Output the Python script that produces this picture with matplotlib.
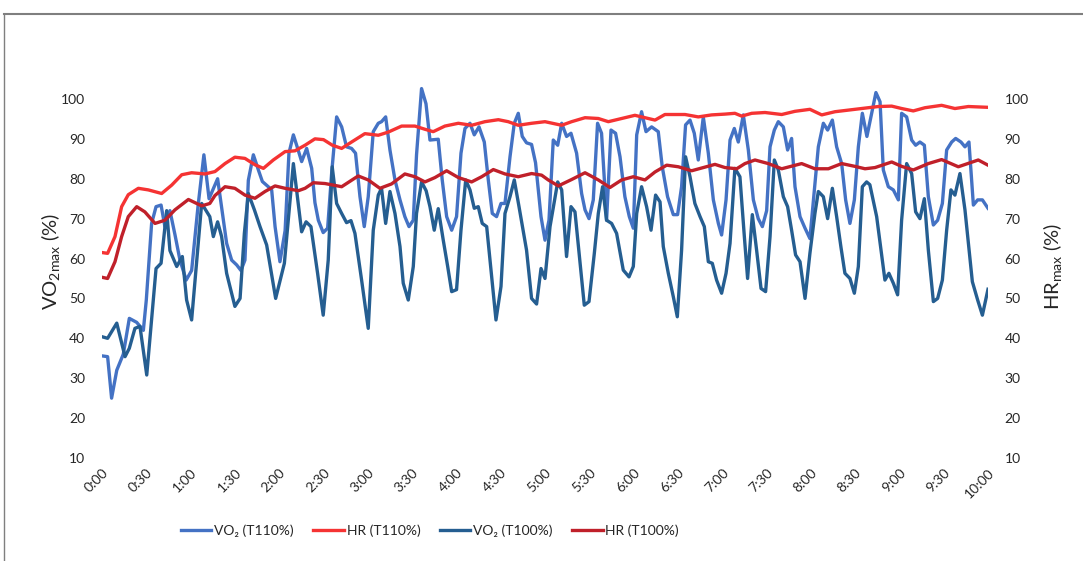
import matplotlib
matplotlib.use("Agg")
import matplotlib.pyplot as plt
from matplotlib.lines import Line2D

# ── data (time in seconds, values in % of max) ────────────────────────────────
vo2_t110_t = [0, 3.8, 6.5, 10, 14.4, 18.5, 23.5, 28, 30, 33.6, 36.6, 40, 42.6, 46, 49.4,
              52.8, 57, 60.7, 65, 69, 72.5, 78.3, 82.2, 84.4, 87.8, 91.2, 94.1, 96.8,
              99.1, 102.5, 105.9, 108.6, 112.6, 114.9, 117.2, 120.5, 124, 126.6, 129.6,
              132.5, 135.2, 138.6, 142, 144.2, 146.5, 149.8, 152.8, 155.5, 158.9, 162.3,
              165.6, 169, 171.7, 174.7, 177.6, 180.3, 183.7, 187.1, 189.3, 192.1, 195,
              198.4, 201.8, 205.1, 207.9, 210.8, 213, 216.4, 219.4, 222.1, 227.7, 230.4,
              233.4, 236.8, 240.1, 243.1, 245.8, 249.2, 252.1, 255.3, 258.9, 261.6, 264.3,
              267.2, 270.2, 272.9, 276.3, 279.2, 281.9, 284.6, 287.5, 290.9, 293.6, 295.5,
              297.3, 300, 302.7, 305.6, 308.6, 311.3, 314.6, 317.6, 321.4, 324.8, 327.1,
              329.8, 332.7, 335.6, 338.3, 340.2, 341.7, 344.7, 347.8, 350.8, 354.1, 357.1,
              359.8, 362.1, 365.4, 368.4, 372.2, 376.7, 379.4, 383, 386.9, 389.8, 392.5,
              395.2, 398.2, 401.1, 403.8, 407.2, 410.6, 414, 417.4, 419.6, 422.6, 425.3,
              428.2, 430.9, 434.3, 437.7, 441.1, 444.4, 447.2, 450.1, 452.4, 455.3, 458,
              461.4, 464.3, 467, 469.3, 472.7, 476.1, 479.4, 482.4, 485.1, 488.5, 491.4,
              494.6, 497.5, 500.9, 503.6, 506.5, 509.5, 512.2, 514.9, 518, 524.1, 526.9,
              529.1, 532.5, 535.9, 539.3, 541.5, 544.9, 548.3, 551, 553.9, 556.9, 559.6,
              563, 565.9, 569.1, 572, 575.4, 578.1, 581.7, 584.4, 587.1, 590.1, 593,
              596.2, 600]
vo2_t110 = [35.6, 35.4, 25, 32, 36, 45, 44, 42, 49.6, 68.8, 73, 73.4, 68, 72, 66,
            59.6, 54.6, 57, 73, 86, 75, 80, 69.6, 63.8, 59.6, 58.4, 57, 59.6,
            79.6, 86, 82.2, 79.3, 78, 77.2, 68, 59.2, 67, 86.4, 91,
            87.6, 84.3, 87.6, 82.6, 74, 69.6, 66.5, 67.6, 81.3, 95.5, 93,
            88, 87.6, 86.4, 75.5, 68, 75.5, 91.8, 93.9, 94.3, 95.5, 87.2,
            79.7, 74.7, 70.5, 68, 69.6, 86, 102.6, 98.8, 89.7, 89.9, 79.7,
            70.5, 67.1, 70.5, 86.4, 92.6, 93.9, 91, 93, 89.2, 79.7, 71.3,
            70.5, 73.8, 73.8, 85.5, 93.9, 96.4, 90.6, 89, 88.6, 84, 77.2,
            70.5, 64.6, 69.6, 89.7, 88.4, 93.9, 90.6, 91.4, 86.4, 76.3, 72.2,
            70, 74.7, 93.9, 91.4, 79.7, 69.6, 92.2, 91.4, 85.5, 75.5, 70.5,
            67.6, 91, 96.8, 91.8, 93, 91.8, 83, 75.5, 71, 71, 78,
            93.5, 94.7, 91.4, 84.7, 95.5, 86.4, 74.7, 68.8, 65.9, 74.7, 89.7,
            92.6, 89.2, 96, 87.2, 74.7, 70, 68, 72, 88, 92.2, 94.3,
            93, 87.2, 90.1, 78, 70.5, 67.6, 65, 77.2, 88, 93.9, 92.2,
            94.7, 88, 83.8, 74.7, 68.8, 74.7, 88, 96.4, 90.6, 101.6, 99.3,
            82.2, 78, 77.2, 74.7, 96.4, 95.5, 89.7, 88.4, 89.2, 88.4, 75.5,
            68.4, 69.6, 73.8, 87.2, 89.2, 90.1, 89.2, 88, 89.2, 73.4, 74.7,
            74.7, 72.6]

vo2_t100_t = [0, 3.8, 10, 15.6, 18.5, 22.3, 25.7, 30.3, 36.6, 40, 43.8, 46, 50.6, 54.4,
              57.3, 60.7, 67.5, 73, 75.4, 78.3, 81, 84.4, 90, 93.5, 96.4, 99.1, 103.2,
              107, 111.5, 117.6, 123.5, 129.6, 135.2, 138.2, 141.5, 146, 149.8, 153.2,
              155.9, 158.9, 162.3, 165.6, 168.6, 171.3, 175.8, 180.3, 183.7, 187.1,
              189.3, 192.1, 195, 198.4, 201.8, 204, 207.4, 210.8, 213, 216.4, 219.5,
              222.1, 225, 227.7, 231.1, 234.1, 236.8, 240.1, 243.1, 246.3, 249.2, 252.1,
              254.8, 257.5, 260.5, 263.9, 266.8, 270.2, 272.9, 276.3, 279.2, 282.4,
              287.5, 290.9, 294.3, 297.3, 300, 303.4, 308.6, 311.3, 314.6, 317.6, 320.3,
              323.7, 326.6, 329.8, 333.4, 336.1, 339, 341.7, 345.1, 348.5, 353, 356.9,
              359.8, 362.1, 365.4, 368.8, 371.8, 374.9, 377.9, 380.1, 383.5, 386.9,
              389.6, 392.5, 395.2, 398.2, 401.5, 405, 407.9, 410.6, 413.3, 416.2, 419.6,
              422.6, 425.3, 428.6, 432, 435, 437.2, 440.4, 443.3, 446.3, 449.4, 452.4,
              455.3, 458, 461.4, 464.3, 467, 469.7, 472.7, 476.1, 479.4, 482.8, 485.1,
              488.5, 491.4, 494.6, 497.5, 500.4, 503.1, 506.5, 509.5, 512.2, 514.9,
              517.8, 520, 524.6, 530.2, 532.9, 535.9, 538.8, 541.5, 544.9, 548.3, 551,
              553.9, 556.9, 559.6, 563, 565.9, 569.1, 572, 574.9, 577.6, 581, 584.4,
              589.4, 593, 596.2, 600]
vo2_t100 = [40.4, 40, 43.8, 35.4, 37.5, 42.5, 43, 30.8, 57.5, 58.8, 72, 62, 58, 60.5,
            49.6, 44.6, 73.8, 70.5, 65.5, 69.2, 65.5, 56.3, 48, 50, 66.3, 76.3, 72.2,
            68, 63.4, 50, 58.8, 83.8, 66.7, 69.2, 68, 56.3, 45.8, 59.6,
            83, 73.8, 71.3, 69, 69.5, 66.3, 54.6, 42.5, 67.1, 75.9,
            77.6, 68.8, 76.8, 71.3, 63, 53.8, 49.6, 58, 71.3, 79.2, 77,
            73, 67.1, 72.5, 64.6, 58, 51.7, 52.2, 67.1, 79.7, 77.2, 72.6,
            73, 68.8, 68, 55.5, 44.6, 53, 71.3, 75.5, 79.7, 73,
            62.1, 50, 48.6, 57.5, 55, 68, 79.2, 77.2, 60.5, 73, 71.7,
            59.2, 48.3, 49.2, 61.3, 71.3, 78, 69.6, 68.8, 66.3, 57.1, 55.4,
            58, 71.3, 78, 73, 67.1, 75.9, 74.2, 63, 56.3, 50.4,
            45.4, 62.1, 85.5, 80.5, 73.8, 70.5, 68, 59.2, 58.8, 54.6, 51.3,
            56.3, 63.8, 82.6, 80.5, 65.5, 55, 71, 62.1, 52.5, 51.7, 65.5,
            84.7, 82.2, 75.5, 73, 67.1, 60.9, 59.2, 50, 61.3, 71.3, 76.8,
            75.5, 70, 77.6, 70.5, 62.9, 56.3, 55, 51.3, 58, 78,
            79.2, 78.5, 70.5, 54.6, 56.3, 53.8, 50.9, 69.6, 83.8, 81.3, 71.7,
            70, 75, 62.1, 49.2, 50, 54.6, 67.1, 77.2, 75.9, 81.3, 72.2,
            54.2, 49.6, 45.8, 52.3]

hr_t110_t = [0, 3.8, 8.8, 13.3, 17.8, 24.6, 31.4, 40.4, 47.2, 54, 60.7, 69.8, 76.5, 83.3,
             90, 96.8, 103.6, 109.3, 116, 124, 130.7, 137.5, 144.2, 150, 156, 162.3, 169,
             178, 187.1, 193.9, 202.9, 211.9, 218.7, 224.3, 232.2, 241.3, 250.3, 259.3,
             268.4, 275.1, 281.9, 290.9, 300, 311.3, 318, 327.1, 336.1, 342.9, 351.9,
             360.9, 367.7, 374.5, 381.2, 394.8, 403.8, 412.8, 421.9, 428.6, 433.2, 440,
             449, 460.3, 469.3, 479.4, 487.4, 496.4, 505.4, 514.4, 525.7, 534.8, 541.5,
             549.4, 557.3, 568.6, 577.6, 586.7, 600]
hr_t110 = [61.5, 61.3, 65.5, 73, 76, 77.6, 77.2, 76.3, 78.4, 81, 81.5, 81.2, 81.8, 83.8,
           85.4, 85.1, 83.5, 82.6, 84.7, 86.8, 87, 88.4, 90, 89.8, 88.4, 87.6, 89.2,
           91.3, 90.9, 91.7, 93.2, 93.2, 92.4, 91.8, 93.2, 93.9, 93.4, 94.3,
           94.8, 94.3, 93.4, 93.9, 94.3, 93.4, 94.3, 95.3, 95.1, 94.3, 95.1,
           95.9, 95.3, 94.7, 96.1, 96.1, 95.5, 96, 96.2, 96.4, 95.7, 96.4,
           96.6, 96.1, 96.9, 97.4, 96, 96.8, 97.2, 97.6, 98.1, 98.2, 97.6,
           97, 97.8, 98.4, 97.6, 98.1, 97.9]

hr_t100_t = [0, 3.8, 8.8, 13.3, 17.8, 23.5, 29, 35.9, 42.6, 49.4, 58.5, 67.5, 73, 76.5,
             83.3, 90, 96.8, 103.6, 110.4, 117.2, 124, 133, 137.5, 143.1, 151, 162.3,
             173.5, 180.3, 188.2, 196.1, 205.1, 211.9, 218.7, 225.5, 233.4, 241.3, 250.3,
             257.1, 265, 272.9, 281.9, 290.9, 297.7, 302.2, 309, 318, 327.1, 336.1, 344,
             351.9, 359.8, 367.7, 374.5, 382.4, 390.3, 399.3, 407.2, 415.1, 421.9, 429.8,
             435.4, 442.2, 451.2, 460.3, 473.8, 482.8, 491.9, 500.9, 509.9, 516.7, 523.5,
             534.8, 541.5, 549.4, 559.6, 568.6, 579.9, 593.4, 600]
hr_t100 = [55.3, 55, 59.2, 65.5, 70.5, 73, 71.7, 68.8, 69.6, 72.2, 74.8, 73.2, 73.8, 75.8,
           78, 77.6, 75.9, 75.1, 76.8, 78.2, 77.6, 77, 77.6, 79, 78.8, 78,
           80.7, 79.7, 77.6, 78.7, 81.2, 80.5, 79.2, 80.3, 82, 80.3, 79.2,
           80.5, 82.3, 81.2, 80.5, 81.3, 80.9, 79.7, 78.2, 79.8, 81.5, 79.7, 77.8,
           79.7, 80.5, 79.7, 81.7, 83.4, 83, 82, 82.8, 83.6, 82.8, 82.5,
           83.8, 84.7, 83.8, 82.5, 83.8, 82.5, 82.5, 83.8, 83.1, 82.5, 82.8,
           84.2, 83.1, 82.2, 83.8, 84.8, 83, 84.7, 83.4]

x_ticks = list(range(0, 601, 30))
x_labels = [f"{t // 60}:{t % 60:02d}" for t in x_ticks]
y_ticks = list(range(10, 101, 10))

# ── style ────────────────────────────────────────────────────────────────────
plt.rcParams["font.family"] = ["Lato", "DejaVu Sans"]
plt.rcParams["mathtext.fontset"] = "custom"
plt.rcParams["mathtext.rm"] = "Lato"
plt.rcParams["mathtext.it"] = "Lato"

C_VO2_110 = "#4472C4"
C_HR_110 = "#F53333"
C_VO2_100 = "#255E91"
C_HR_100 = "#C0202A"
TXT = "#262626"
LW = 2.4

W, H = 1083, 561
fig = plt.figure(figsize=(W / 100, H / 100), dpi=100)
ax = fig.add_axes([102 / W, 1 - 458 / H, 886 / W, 379 / H])
ax2 = ax.twinx()

ax.plot(vo2_t110_t, vo2_t110, color=C_VO2_110, lw=LW, solid_joinstyle="round", zorder=2)
ax.plot(vo2_t100_t, vo2_t100, color=C_VO2_100, lw=LW, solid_joinstyle="round", zorder=3)
ax2.plot(hr_t110_t, hr_t110, color=C_HR_110, lw=LW, solid_joinstyle="round")
ax2.plot(hr_t100_t, hr_t100, color=C_HR_100, lw=LW, solid_joinstyle="round")

for a in (ax, ax2):
    a.set_xlim(0, 600)
    a.set_ylim(10, 105)
    a.set_yticks(y_ticks)
    for s in a.spines.values():
        s.set_visible(False)
    a.tick_params(axis="both", length=0, labelsize=10, labelcolor=TXT)

ax.set_xticks(x_ticks)
ax.set_xticklabels(x_labels, rotation=45, ha="right", rotation_mode="anchor")
ax.tick_params(axis="x", pad=6)
ax.tick_params(axis="y", pad=12)
ax2.tick_params(axis="y", pad=12)

# axis titles placed where the original has them
fig.text(51 / W, 1 - 310 / H, r"VO$_{\rm 2max}$ (%)", rotation=90, fontsize=14.5,
         color=TXT, ha="center", va="bottom")
fig.text(1052 / W, 1 - 310 / H, r"HR$_{\rm max}$ (%)", rotation=90, fontsize=14.5,
         color=TXT, ha="center", va="bottom")

handles = [
    Line2D([0], [0], color=C_VO2_110, lw=LW, label="VO\u2082 (T110%)"),
    Line2D([0], [0], color=C_HR_110, lw=LW, label="HR (T110%)"),
    Line2D([0], [0], color=C_VO2_100, lw=LW, label="VO\u2082 (T100%)"),
    Line2D([0], [0], color=C_HR_100, lw=LW, label="HR (T100%)"),
]
leg = fig.legend(handles=handles, loc="center", bbox_to_anchor=(430 / W, 1 - 531 / H),
                 ncol=4, frameon=False, fontsize=10, handlelength=2.2,
                 handletextpad=0.2, columnspacing=1.4, borderpad=0)
for t in leg.get_texts():
    t.set_color(TXT)

# outer frame lines of the original figure box
fig.add_artist(Line2D([4 / W, 1.0], [1 - 14 / H, 1 - 14 / H], transform=fig.transFigure,
                      color="#7f7f7f", lw=1.5))
fig.add_artist(Line2D([4 / W, 4 / W], [0.0, 1 - 14 / H], transform=fig.transFigure,
                      color="#7f7f7f", lw=1.0))

fig.savefig("out.png", dpi=100, facecolor="white")
